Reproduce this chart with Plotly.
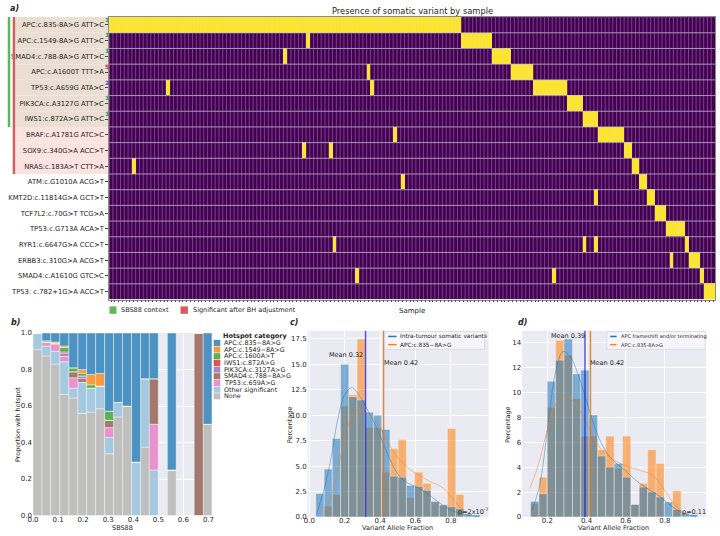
import numpy as np
import plotly.graph_objects as go

W, H = 720, 536
def fx(p):
    return p / W
def fy(p):
    return 1 - p / H

FONT = "DejaVu Sans"
TXT = "#262626"

# ---------------- Panel a data ----------------
N_SAMPLES = 160
variant_labels = [
    "APC:c.835-8A>G ATT>C", "APC:c.1549-8A>G ATT>C", "SMAD4:c.788-8A>G ATT>C",
    "APC:c.A1600T TTT>A", "TP53:c.A659G ATA>C", "PIK3CA:c.A3127G ATT>C",
    "IWS1:c.872A>G ATT>C", "BRAF:c.A1781G ATC>C", "SOX9:c.340G>A ACC>T",
    "NRAS:c.183A>T CTT>A", "ATM:c.G1010A ACG>T", "KMT2D:c.11814G>A GCT>T",
    "TCF7L2:c.70G>T TCG>A", "TP53:c.G713A ACA>T", "RYR1:c.6647G>A CCC>T",
    "ERBB3:c.310G>A ACG>T", "SMAD4:c.A1610G GTC>C", "TP53: c.782+1G>A ACC>T",
]
block_start = [0, 93, 101, 106, 112, 121, 125, 129, 136, 138, 140, 142, 144, 147, 152, 153, 156, 157]
block_end   = [92, 100, 105, 111, 120, 124, 128, 135, 137, 139, 141, 143, 146, 151, 152, 155, 156, 159]
extra_hits  = [[], [52], [46], [68], [15, 69], [], [], [75], [51, 58], [6], [77], [128],
               [], [], [59, 125, 128], [148], [65, 117], []]
sbs88_rows = [0, 1, 2, 3, 4, 5, 6]
significant_rows = [0, 1, 2, 3, 4, 5, 6, 7, 8, 9]
superscripts = ["1", "1", "1", "5", "2", "1", "1"]
superscript_colors = ["#2e9a4a", "#2e9a4a", "#2e9a4a", "#b03030", "#2f4fe0", "#2e9a4a", "#2e9a4a"]

# ---------------- Panel b data ----------------
b_bin_edges = [0.000, 0.036, 0.071, 0.107, 0.143, 0.179, 0.214, 0.250, 0.286, 0.321, 0.357,
               0.393, 0.429, 0.464, 0.500, 0.536, 0.571, 0.607, 0.643, 0.679, 0.714]
hotspot_categories = ["APC:c.835\u22128A>G", "APC:c.1549\u22128A>G", "APC:c.1600A>T", "IWS1:c.872A>G",
                      "PIK3CA:c.3127A>G", "SMAD4:c.788\u22128A>G", "TP53:c.659A>G",
                      "Other significant", "None"]
hotspot_colors = ["#4c92c3", "#ff993e", "#56b356", "#de5253", "#a985ca", "#a3786f",
                  "#e992ce", "#a5c9e1", "#bfbfbf"]
prop_apc835  = [0, .043, .049, .071, .191, .200, .227, .221, .428, .38, .40, .707, .25, .25, 0, .75, 0, 0, 0, .5]
prop_apc1549 = [0, 0, .006, .009, 0, .020, .057, .069, 0, 0, 0, 0, 0, 0, 0, 0, 0, 0, 0, 0]
prop_apc1600 = [0, .007, 0, .024, .021, .015, .018, 0, .050, 0, 0, 0, 0, 0, 0, 0, 0, 0, 0, 0]
prop_iws1    = [0, 0, 0, .006, 0, 0, 0, 0, 0, 0, 0, 0, 0, 0, 0, 0, 0, 0, 0, 0]
prop_pik3ca  = [0, 0, 0, .018, 0, .015, 0, 0, 0, 0, 0, 0, 0, 0, 0, 0, 0, 0, 0, 0]
prop_smad4   = [0, 0, .008, 0, .033, .020, 0, 0, .040, 0, 0, 0, 0, .25, 0, 0, 0, 0, 1.0, 0]
prop_tp53    = [0, .022, .037, .030, .057, 0, 0, 0, .054, 0, 0, 0, 0, .25, 0, 0, 0, 0, 0, 0]
prop_other   = [.09, .054, .07, .177, .054, .17, .131, .125, .09, .08, 0, .293, .375, .25, 0, 0, 0, 0, 0, 0]
prop_none    = [.91, .874, .83, .665, .644, .56, .567, .585, .338, .54, .60, 0, .375, 0, 0, .25, 0, 0, 0, .5]

# ---------------- Panel c data ----------------
c_bin_edges = [0.037, 0.084, 0.130, 0.177, 0.223, 0.270, 0.316, 0.363, 0.409, 0.456, 0.502,
               0.549, 0.595, 0.642, 0.688, 0.735, 0.781, 0.828, 0.874, 0.921, 0.967]
c_intra_pct = [2.3, 4.7, 7.7, 15.0, 11.8, 11.5, 10.3, 10.0, 8.6, 4.0, 3.9, 3.1, 3.0, 2.6, 1.5, 1.2, 1.0, 0.8, 0.3, 0.2]
c_apc_pct   = [0, 1.05, 2.2, 10.9, 12.0, 17.5, 8.8, 8.8, 4.4, 6.7, 7.6, 1.9, 4.4, 3.3, 1.5, 1.1, 8.7, 2.2, 0, 0]
c_kde_intra_x = [0.04, 0.08, 0.12, 0.16, 0.2, 0.24, 0.28, 0.32, 0.36, 0.4, 0.44, 0.48, 0.52, 0.56,
                 0.6, 0.64, 0.68, 0.72, 0.76, 0.8, 0.84, 0.88, 0.92, 0.96]
c_kde_intra_y = [0.2, 2.5, 5.5, 9.5, 12.0, 12.7, 12.0, 10.8, 9.5, 8.0, 6.3, 4.8, 3.8, 3.3,
                 3.0, 2.6, 2.1, 1.6, 1.1, 0.7, 0.4, 0.2, 0.1, 0.05]
c_kde_apc_x = [0.08, 0.12, 0.16, 0.2, 0.24, 0.28, 0.32, 0.36, 0.4, 0.44, 0.48, 0.52, 0.56, 0.6,
               0.64, 0.68, 0.72, 0.76, 0.8, 0.84, 0.88, 0.92]
c_kde_apc_y = [0.3, 1.8, 4.5, 7.8, 9.8, 10.6, 10.4, 9.7, 8.8, 7.5, 6.3, 5.5, 4.8, 4.3,
               3.9, 3.5, 3.2, 2.8, 2.0, 1.2, 0.5, 0.15]
c_means = [0.318, 0.42]
c_legend = ["Intra-tumour somatic variants", "APC:c.835\u22128A>G"]

# ---------------- Panel d data ----------------
d_bin_edges = [0.114, 0.157, 0.199, 0.242, 0.285, 0.328, 0.370, 0.413, 0.456, 0.498, 0.541,
               0.584, 0.626, 0.669, 0.712, 0.755, 0.797, 0.840, 0.883, 0.925, 0.968]
d_frameshift_pct = [1.25, 1.85, 10.9, 12.6, 14.3, 11.5, 11.8, 8.2, 4.9, 4.0, 4.3, 3.2, 1.0, 2.4, 2.0, 1.6, 1.2, 0.6, 0.3, 0.2]
d_apc_pct        = [1.1, 3.2, 8.8, 14.2, 13.0, 9.5, 6.5, 6.5, 5.4, 6.5, 3.9, 6.5, 1.0, 2.7, 5.4, 4.3, 0, 2.1, 0, 0]
d_kde_fs_x = [0.12, 0.16, 0.2, 0.24, 0.28, 0.32, 0.36, 0.4, 0.44, 0.48, 0.52, 0.56, 0.6, 0.64,
              0.68, 0.72, 0.76, 0.8, 0.84, 0.88, 0.92, 0.96]
d_kde_fs_y = [0.5, 2.5, 7.0, 11.5, 13.3, 12.8, 11.3, 9.3, 7.3, 5.8, 4.8, 4.2, 3.7, 3.1,
              2.6, 2.2, 1.8, 1.3, 0.8, 0.4, 0.15, 0.05]
d_kde_apc_x = [0.11, 0.15, 0.2, 0.24, 0.28, 0.32, 0.36, 0.4, 0.44, 0.48, 0.52, 0.56, 0.6, 0.64,
               0.68, 0.72, 0.76, 0.8, 0.84, 0.88, 0.92]
d_kde_apc_y = [2.3, 4.0, 7.0, 9.0, 9.7, 9.5, 8.7, 7.5, 6.3, 5.3, 4.8, 4.4, 4.1, 3.9,
               3.7, 3.5, 3.0, 2.1, 1.2, 0.5, 0.2]
d_means = [0.392, 0.42]
d_legend = ["APC frameshift and/or terminating", "APC:c.835-8A>G"]

BLUE = "#1f77b4"
ORANGE = "#ff7f0e"

fig = go.Figure()
shapes = []
annotations = []

def ann(text, x, y, size=6.5, xanchor="center", yanchor="middle", color=TXT, textangle=0, xref="paper", yref="paper"):
    annotations.append(dict(text=text, x=x, y=y, xref=xref, yref=yref, showarrow=False,
                            xanchor=xanchor, yanchor=yanchor, textangle=textangle,
                            font=dict(family=FONT, size=size, color=color)))

def rect(x0, y0, x1, y1, color, line=None, xref="paper", yref="paper", layer="above"):
    shapes.append(dict(type="rect", x0=x0, y0=y0, x1=x1, y1=y1, xref=xref, yref=yref,
                       fillcolor=color, line=line or dict(width=0), layer=layer))

# ======== Panel a ========
n_rows = len(variant_labels)
z = np.zeros((n_rows, N_SAMPLES))
for r in range(n_rows):
    z[r, block_start[r]:block_end[r] + 1] = 1
    for c in extra_hits[r]:
        z[r, c] = 1

fig.add_trace(go.Heatmap(z=z, x=list(range(N_SAMPLES)), y=list(range(n_rows)),
                         colorscale=[[0, "#440154"], [1, "#fde725"]], zmin=0, zmax=1,
                         showscale=False, xaxis="x", yaxis="y", hoverinfo="skip"))
vx, vy = [], []
for k in range(1, N_SAMPLES):
    vx += [k - 0.5, k - 0.5, None]
    vy += [-0.5, n_rows - 0.5, None]
fig.add_trace(go.Scatter(x=vx, y=vy, mode="lines", line=dict(color="rgba(215,205,225,0.33)", width=1),
                         xaxis="x", yaxis="y", hoverinfo="skip", showlegend=False))
hx, hy = [], []
for r in range(1, n_rows):
    hx += [-0.5, N_SAMPLES - 0.5, None]
    hy += [r - 0.5, r - 0.5, None]
fig.add_trace(go.Scatter(x=hx, y=hy, mode="lines", line=dict(color="rgba(200,196,210,0.75)", width=1),
                         xaxis="x", yaxis="y", hoverinfo="skip", showlegend=False))

for r in range(n_rows):
    if r in sbs88_rows:
        rect(fx(9.5), r - 0.5, fx(104.3), r + 0.5, "#ebdfd4", yref="y", layer="below")
    elif r in significant_rows:
        rect(fx(9.5), r - 0.5, fx(104.3), r + 0.5, "#fce3e0", yref="y", layer="below")
rect(fx(1.8), min(sbs88_rows) - 0.5, fx(4.3), max(sbs88_rows) + 0.5, "#5cb85c", yref="y")
rect(fx(6.8), min(significant_rows) - 0.5, fx(9.3), max(significant_rows) + 0.5, "#dc5a5a", yref="y")
for i, (s, col) in enumerate(zip(superscripts, superscript_colors)):
    ann(f"<b>{s}</b>", fx(102.3), sbs88_rows[i] - 0.33, size=5.8, color=col, yref="y")

ann("Presence of somatic variant by sample", fx(410.7), fy(7), size=8.3)
ann("Sample", fx(410.7), fy(311.5), size=7)
ann("<b><i>a)</i></b>", fx(2), fy(5), size=8, xanchor="left")
rect(fx(104.7), fy(314.5), fx(111.7), fy(307), "#5cb85c")
ann("SBS88 context", fx(114), fy(311), size=6.5, xanchor="left")
rect(fx(176.5), fy(314.5), fx(184), fy(307), "#dc5a5a")
ann("Significant after BH adjustment", fx(186.7), fy(311), size=6.5, xanchor="left")

# ======== Panel b ========
b_props = [prop_apc835, prop_apc1549, prop_apc1600, prop_iws1, prop_pik3ca,
           prop_smad4, prop_tp53, prop_other, prop_none]
b_centers = [(b_bin_edges[i] + b_bin_edges[i + 1]) / 2 for i in range(len(b_bin_edges) - 1)]
b_widths = [b_bin_edges[i + 1] - b_bin_edges[i] for i in range(len(b_bin_edges) - 1)]
base = np.zeros(len(b_centers))
for idx in reversed(range(len(hotspot_categories))):
    vals = np.array(b_props[idx], dtype=float)
    fig.add_trace(go.Bar(x=b_centers, y=vals, base=base.copy(), width=b_widths,
                         marker=dict(color=hotspot_colors[idx], line=dict(color="rgba(255,255,240,0.7)", width=0.6)),
                         xaxis="x2", yaxis="y2", hoverinfo="skip", showlegend=False))
    base = base + vals

# manual legend b
ann("<b>Hotspot category</b>", fx(217.5), fy(336.7), size=6.5, xanchor="left")
for i, (name, col) in enumerate(zip(hotspot_categories, hotspot_colors)):
    yc = 344 + 6.78 * i
    rect(fx(210), fy(yc + 3.1), fx(216.7), fy(yc - 3.1), col)
    ann(name, fx(218.3), fy(yc), size=6.4, xanchor="left")
ann("Proportion with hotspot", fx(11.5), fy(427), size=6.4, textangle=-90)
ann("SBS88", fx(118), fy(531.5), size=6.5)
ann("<b><i>b)</i></b>", fx(3), fy(323), size=8, xanchor="left")

# ======== Panels c, d ========
def hist_panel(edges, blue_vals, orange_vals, kx_b, ky_b, kx_o, ky_o, xa, ya):
    centers = [(edges[i] + edges[i + 1]) / 2 for i in range(len(edges) - 1)]
    widths = [edges[i + 1] - edges[i] for i in range(len(edges) - 1)]
    fig.add_trace(go.Bar(x=centers, y=orange_vals, width=widths, opacity=0.55,
                         marker=dict(color=ORANGE, line=dict(color="rgba(255,255,255,0.8)", width=0.5)),
                         xaxis=xa, yaxis=ya, hoverinfo="skip", showlegend=False))
    fig.add_trace(go.Bar(x=centers, y=blue_vals, width=widths, opacity=0.55,
                         marker=dict(color=BLUE, line=dict(color="rgba(255,255,255,0.8)", width=0.5)),
                         xaxis=xa, yaxis=ya, hoverinfo="skip", showlegend=False))
    fig.add_trace(go.Scatter(x=kx_b, y=ky_b, mode="lines", line=dict(color="rgba(31,119,180,0.45)", width=1, shape="spline"),
                             xaxis=xa, yaxis=ya, hoverinfo="skip", showlegend=False))
    fig.add_trace(go.Scatter(x=kx_o, y=ky_o, mode="lines", line=dict(color="rgba(255,127,14,0.45)", width=1, shape="spline"),
                             xaxis=xa, yaxis=ya, hoverinfo="skip", showlegend=False))

hist_panel(c_bin_edges, c_intra_pct, c_apc_pct, c_kde_intra_x, c_kde_intra_y, c_kde_apc_x, c_kde_apc_y, "x3", "y3")
hist_panel(d_bin_edges, d_frameshift_pct, d_apc_pct, d_kde_fs_x, d_kde_fs_y, d_kde_apc_x, d_kde_apc_y, "x4", "y4")

for means, xr, yr in [(c_means, "x3", "y3 domain"), (d_means, "x4", "y4 domain")]:
    shapes.append(dict(type="line", x0=means[0], x1=means[0], y0=0, y1=1, xref=xr, yref=yr,
                       line=dict(color="rgba(20,20,225,0.75)", width=1.4)))
    shapes.append(dict(type="line", x0=means[1], x1=means[1], y0=0, y1=1, xref=xr, yref=yr,
                       line=dict(color="rgba(235,110,20,0.85)", width=1.4)))

ann(f"Mean {c_means[0]:.2f}", fx(344), fy(356), size=6.5)
ann(f"Mean {c_means[1]:.2f}", fx(399), fy(364.3), size=6.5)
ann("p=2x10<sup>-7</sup>", fx(455), fy(515.5), size=6.5, xanchor="left")
ann(f"Mean {d_means[0]:.2f}", fx(568), fy(336.7), size=6.5)
ann(f"Mean {d_means[1]:.2f}", fx(607.5), fy(364.3), size=6.5)
ann("p=0.11", fx(682), fy(515.5), size=6.5, xanchor="left")

# legends c, d
rect(fx(383), fy(350.5), fx(484), fy(332.7), "rgba(248,248,252,0.85)", line=dict(color="#cfcfd6", width=0.6))
for i, (name, col) in enumerate(zip(c_legend, [BLUE, ORANGE])):
    yc = 337.5 + 8.3 * i
    shapes.append(dict(type="line", x0=fx(386.5), x1=fx(395), y0=fy(yc), y1=fy(yc), xref="paper", yref="paper",
                       line=dict(color=col, width=1.5)))
    ann(name, fx(396.7), fy(yc), size=5.8, xanchor="left")
rect(fx(607.7), fy(350.5), fx(707), fy(332.7), "rgba(248,248,252,0.85)", line=dict(color="#cfcfd6", width=0.6))
for i, (name, col) in enumerate(zip(d_legend, [BLUE, ORANGE])):
    yc = 337.5 + 8.3 * i
    shapes.append(dict(type="line", x0=fx(611), x1=fx(617.5), y0=fy(yc), y1=fy(yc), xref="paper", yref="paper",
                       line=dict(color=col, width=1.5)))
    ann(name, fx(620), fy(yc), size=5.0, xanchor="left")

ann("Percentage", fx(286.7), fy(427), size=6.5, textangle=-90)
ann("Variant Allele Fraction", fx(396), fy(532.3), size=6.5)
ann("<b><i>c)</i></b>", fx(285), fy(323), size=8, xanchor="left")
ann("Percentage", fx(507), fy(427), size=6.5, textangle=-90)
ann("Variant Allele Fraction", fx(614), fy(532.3), size=6.5)
ann("<b><i>d)</i></b>", fx(516), fy(323), size=8, xanchor="left")

tickfont = dict(family=FONT, size=7, color=TXT)
grid_axis = dict(showgrid=True, gridcolor="white", gridwidth=1, zeroline=False, showline=False,
                 ticks="", tickfont=tickfont)

fig.update_layout(
    width=W, height=H, margin=dict(l=0, r=0, t=0, b=0),
    paper_bgcolor="white", plot_bgcolor="#eaeaf2",
    barmode="overlay", showlegend=False,
    font=dict(family=FONT, color=TXT),
    xaxis=dict(domain=[fx(104.3), fx(717)], range=[-0.5, N_SAMPLES - 0.5], anchor="y",
               showgrid=False, zeroline=False, showline=True, mirror=True, linecolor="#8a8a8a", linewidth=0.8,
               ticks="outside", ticklen=2, tickwidth=0.6, tickcolor="#555",
               tickvals=list(range(N_SAMPLES)), showticklabels=False),
    yaxis=dict(domain=[fy(300), fy(13.3)], range=[n_rows - 0.5, -0.5], anchor="x",
               showgrid=False, zeroline=False, showline=True, mirror=True, linecolor="#8a8a8a", linewidth=0.8,
               ticks="outside", ticklen=3, tickwidth=0.7, tickcolor="#444",
               tickvals=list(range(n_rows)), ticktext=variant_labels,
               tickfont=dict(family=FONT, size=6.8, color=TXT)),
    xaxis2=dict(domain=[fx(27.3), fx(208.3)], range=[0, b_bin_edges[-1]], anchor="y2",
                tickvals=[0, 0.1, 0.2, 0.3, 0.4, 0.5, 0.6, 0.7], tickformat=".1f",
                ticklabelstandoff=-2, **grid_axis),
    yaxis2=dict(domain=[fy(519.3), fy(334)], range=[0, 1.0], anchor="x2",
                tickvals=[0, 0.2, 0.4, 0.6, 0.8, 1.0], tickformat=".1f", **grid_axis),
    xaxis3=dict(domain=[fx(305), fx(488)], range=[-0.0095, 1.0135], anchor="y3",
                tickvals=[0, 0.2, 0.4, 0.6, 0.8], tickformat=".1f",
                ticklabelstandoff=-2, **grid_axis),
    yaxis3=dict(domain=[fy(520.7), fy(331.7)], range=[0, 18.3], anchor="x3",
                tickvals=[0, 2.5, 5, 7.5, 10, 12.5, 15, 17.5], tickformat=".1f", **grid_axis),
    xaxis4=dict(domain=[fx(522), fx(708)], range=[0.0713, 1.0107], anchor="y4",
                tickvals=[0.2, 0.4, 0.6, 0.8], tickformat=".1f",
                ticklabelstandoff=-2, **grid_axis),
    yaxis4=dict(domain=[fy(520.7), fy(331.7)], range=[0, 14.97], anchor="x4",
                tickvals=[0, 2, 4, 6, 8, 10, 12, 14], **grid_axis),
    shapes=shapes, annotations=annotations,
)

fig.write_html("out.html")
